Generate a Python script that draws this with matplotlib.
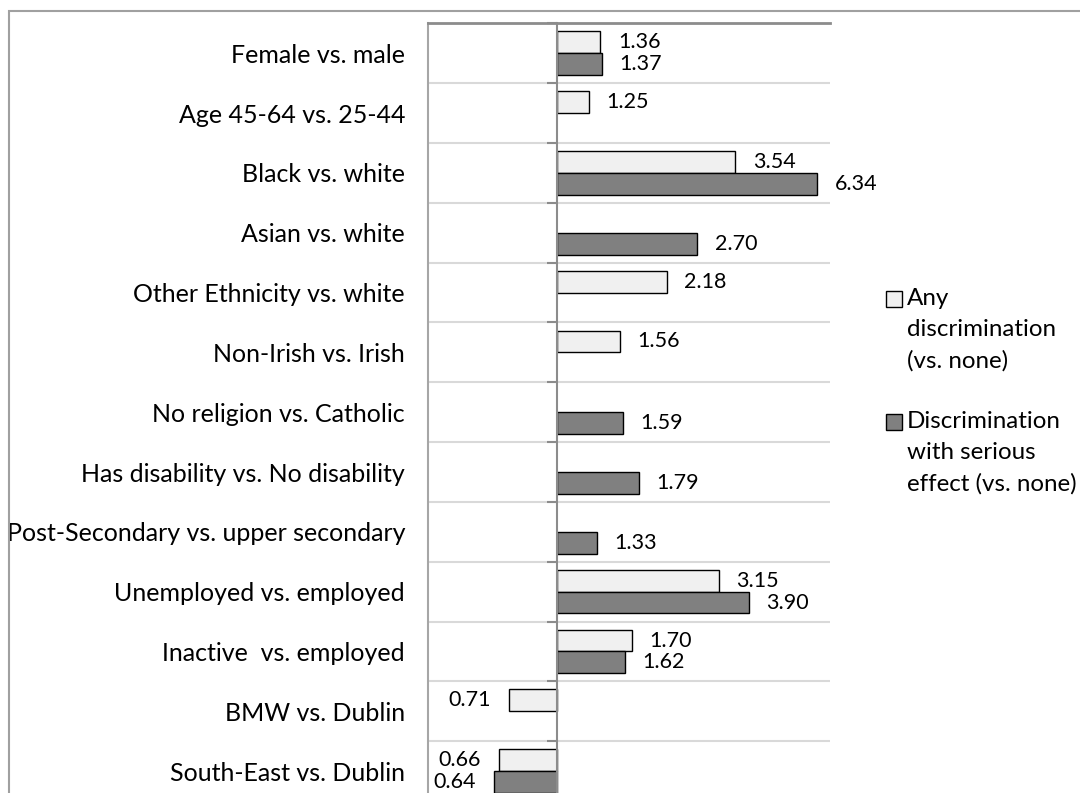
import numpy as np
import matplotlib
matplotlib.use("Agg")
import matplotlib.pyplot as plt
from matplotlib.patches import Rectangle

plt.rcParams["font.family"] = ["Lato", "DejaVu Sans"]

categories = [
    "Female vs. male",
    "Age 45-64 vs. 25-44",
    "Black vs. white",
    "Asian vs. white",
    "Other Ethnicity vs. white",
    "Non-Irish vs. Irish",
    "No religion vs. Catholic",
    "Has disability vs. No disability",
    "Post-Secondary vs. upper secondary",
    "Unemployed vs. employed",
    "Inactive  vs. employed",
    "BMW vs. Dublin",
    "South-East vs. Dublin",
]
any_disc = [1.36, 1.25, 3.54, np.nan, 2.18, 1.56, np.nan, np.nan, np.nan, 3.15, 1.70, 0.71, 0.66]
serious_disc = [1.37, np.nan, 6.34, 2.70, np.nan, np.nan, 1.59, 1.79, 1.33, 3.90, 1.62, np.nan, 0.64]
legend_labels = ["Any\ndiscrimination\n(vs. none)", "Discrimination\nwith serious\neffect (vs. none)"]

light = "#f0f0f0"
dark = "#808080"

fig = plt.figure(figsize=(10.8, 7.93), dpi=100)
# outer chart frame
fig.patches.append(Rectangle((9 / 1080, -0.1), 1.2, 1 - 11 / 793 + 0.1, transform=fig.transFigure,
                             fill=False, edgecolor="#a0a0a0", linewidth=1.5))

ax = fig.add_axes([428 / 1080, -8 / 793, (830 - 428) / 1080, (801 - 23) / 793 * 0.9995])
n = len(categories)
y = np.arange(n)
h = 0.365

any_arr = np.array(any_disc)
ser_arr = np.array(serious_disc)
ax.barh(y - h / 2, any_arr - 1, left=1, height=h, color=light, edgecolor="black", linewidth=1)
ax.barh(y + h / 2, ser_arr - 1, left=1, height=h, color=dark, edgecolor="black", linewidth=1)

for vals, off in [(any_arr, -h / 2), (ser_arr, h / 2)]:
    for i, v in enumerate(vals):
        if np.isnan(v):
            continue
        if v >= 1:
            ax.annotate(f"{v:.2f}", (v, i + off), xytext=(12.5, 0), textcoords="offset points",
                        ha="left", va="center", fontsize=15.5)
        else:
            ax.annotate(f"{v:.2f}", (v, i + off), xytext=(-13, 0), textcoords="offset points",
                        ha="right", va="center", fontsize=15.5)

ax.set_xscale("log")
ax.set_xlim(0.4, 6.93)
ax.set_ylim(n - 0.5, -0.5)
ax.set_xticks([])
ax.minorticks_off()
ax.set_xticks([], minor=True)
ax.set_yticks(y)
ax.set_yticklabels(categories, fontsize=18)
ax.tick_params(axis="y", length=0, pad=16.5)

# horizontal gridlines at category boundaries
for b in np.arange(0.5, n, 1.0):
    ax.axhline(b, color="#d9d9d9", linewidth=1.5, zorder=0)

for s in ["right", "bottom"]:
    ax.spines[s].set_visible(False)
ax.spines["top"].set_color("#8c8c8c")
ax.spines["top"].set_linewidth(2)
ax.spines["left"].set_color("#a6a6a6")
ax.spines["left"].set_linewidth(1.5)

# category axis at x = 1 with outside ticks at boundaries
ax2 = ax.twinx()
ax2.set_ylim(ax.get_ylim())
for s in ["right", "top", "bottom"]:
    ax2.spines[s].set_visible(False)
ax2.spines["left"].set_position(("data", 1))
ax2.spines["left"].set_color("#8c8c8c")
ax2.spines["left"].set_linewidth(1.5)
ax2.yaxis.set_ticks_position("left")
ax2.set_yticks(np.arange(-0.5, n, 1.0))
ax2.set_yticklabels([])
ax2.tick_params(axis="y", direction="out", length=7, width=1.5, color="#8c8c8c")

# legend
for k, (lab, col) in enumerate(zip(legend_labels, [light, dark])):
    ytop = 291 + k * 123
    fig.patches.append(Rectangle((886 / 1080, 1 - (ytop + 16) / 793), 16 / 1080, 16 / 793,
                                 transform=fig.transFigure, facecolor=col, edgecolor="black",
                                 linewidth=1))
    fig.text(907 / 1080, 1 - (ytop - 3) / 793, lab, ha="left", va="top", fontsize=17.4,
             linespacing=1.57)

fig.savefig("out.png", dpi=100)
